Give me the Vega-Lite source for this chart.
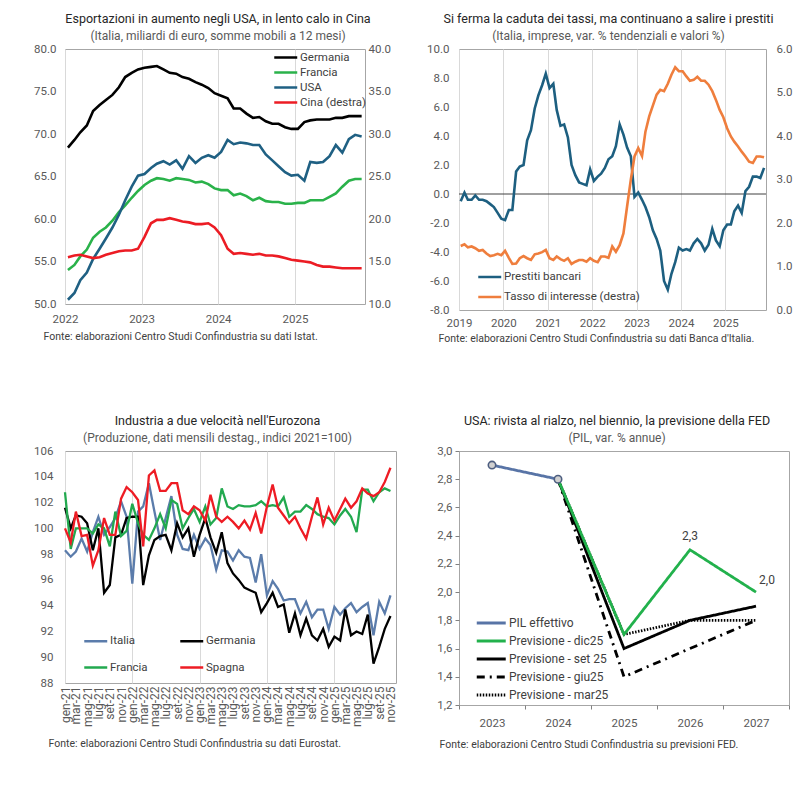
{
"$schema": "https://vega.github.io/schema/vega-lite/v6.json",
"background": "white",
"padding": {"left": 33, "top": 12, "right": 5, "bottom": 5},
"config": {
  "font": "Roboto",
  "view": {"stroke": "#a6a6a6", "strokeWidth": 1},
  "axis": {"labelFont": "Roboto", "labelFontSize": 11.5, "labelColor": "#595959", "domain": false, "ticks": false, "grid": false, "labelOverlap": false, "titleFont": "Roboto", "titleFontSize": 10.5, "titleFontWeight": "normal", "titleColor": "#404040"},
  "title": {"font": "Roboto", "fontSize": 12.5, "fontWeight": "normal", "color": "#262626", "subtitleFont": "Roboto", "subtitleFontSize": 12, "subtitleColor": "#595959", "subtitlePadding": 5.5, "offset": 1, "anchor": "middle"},
  "legend": {"labelFont": "Roboto", "labelFontSize": 11.5, "labelColor": "#404040", "symbolType": "M-1,0H3", "symbolSize": 132, "symbolStrokeWidth": 2.5, "labelOffset": 13}
},
"datasets": {
"exp": [
{"d":"2022-01-15","Germania":68.4,"Francia":54.0,"USA":50.5,"C":15.5},
{"d":"2022-02-15","Germania":69.3,"Francia":54.6,"USA":51.3,"C":15.7},
{"d":"2022-03-15","Germania":70.2,"Francia":55.6,"USA":52.8,"C":15.8},
{"d":"2022-04-15","Germania":71.0,"Francia":56.4,"USA":53.7,"C":15.6},
{"d":"2022-05-15","Germania":72.7,"Francia":57.8,"USA":55.3,"C":15.4},
{"d":"2022-06-15","Germania":73.4,"Francia":58.5,"USA":56.5,"C":15.5},
{"d":"2022-07-15","Germania":74.0,"Francia":59.0,"USA":57.7,"C":15.8},
{"d":"2022-08-15","Germania":74.6,"Francia":59.8,"USA":59.0,"C":16.0},
{"d":"2022-09-15","Germania":75.5,"Francia":60.8,"USA":60.5,"C":16.2},
{"d":"2022-10-15","Germania":76.7,"Francia":61.6,"USA":62.2,"C":16.3},
{"d":"2022-11-15","Germania":77.2,"Francia":62.5,"USA":63.8,"C":16.3},
{"d":"2022-12-15","Germania":77.6,"Francia":63.3,"USA":65.1,"C":16.5},
{"d":"2023-01-15","Germania":77.8,"Francia":64.0,"USA":65.3,"C":17.9},
{"d":"2023-02-15","Germania":77.9,"Francia":64.5,"USA":66.0,"C":19.5},
{"d":"2023-03-15","Germania":78.0,"Francia":64.8,"USA":66.5,"C":19.9},
{"d":"2023-04-15","Germania":77.6,"Francia":64.7,"USA":66.8,"C":19.9},
{"d":"2023-05-15","Germania":77.2,"Francia":64.5,"USA":66.4,"C":20.1},
{"d":"2023-06-15","Germania":77.1,"Francia":64.8,"USA":66.9,"C":19.9},
{"d":"2023-07-15","Germania":76.7,"Francia":64.7,"USA":65.9,"C":19.7},
{"d":"2023-08-15","Germania":76.5,"Francia":64.6,"USA":67.4,"C":19.6},
{"d":"2023-09-15","Germania":76.1,"Francia":64.3,"USA":66.6,"C":19.4},
{"d":"2023-10-15","Germania":75.8,"Francia":64.4,"USA":67.2,"C":19.4},
{"d":"2023-11-15","Germania":75.4,"Francia":64.1,"USA":67.5,"C":19.5},
{"d":"2023-12-15","Germania":74.8,"Francia":63.6,"USA":67.2,"C":19.0},
{"d":"2024-01-15","Germania":74.5,"Francia":63.4,"USA":67.9,"C":18.1},
{"d":"2024-02-15","Germania":74.2,"Francia":63.4,"USA":69.3,"C":16.5},
{"d":"2024-03-15","Germania":73.0,"Francia":62.8,"USA":68.8,"C":15.9},
{"d":"2024-04-15","Germania":73.0,"Francia":63.0,"USA":69.0,"C":16.0},
{"d":"2024-05-15","Germania":72.4,"Francia":62.7,"USA":68.9,"C":15.9},
{"d":"2024-06-15","Germania":71.9,"Francia":62.2,"USA":68.7,"C":15.8},
{"d":"2024-07-15","Germania":72.0,"Francia":62.5,"USA":68.7,"C":15.9},
{"d":"2024-08-15","Germania":71.5,"Francia":62.1,"USA":67.6,"C":15.7},
{"d":"2024-09-15","Germania":71.2,"Francia":62.0,"USA":66.9,"C":15.7},
{"d":"2024-10-15","Germania":71.2,"Francia":62.0,"USA":66.2,"C":15.6},
{"d":"2024-11-15","Germania":70.8,"Francia":61.8,"USA":65.5,"C":15.4},
{"d":"2024-12-15","Germania":70.6,"Francia":61.8,"USA":65.1,"C":15.2},
{"d":"2025-01-15","Germania":70.6,"Francia":61.9,"USA":65.2,"C":15.1},
{"d":"2025-02-15","Germania":71.4,"Francia":61.9,"USA":64.5,"C":15.0},
{"d":"2025-03-15","Germania":71.6,"Francia":62.2,"USA":66.7,"C":14.9},
{"d":"2025-04-15","Germania":71.7,"Francia":62.2,"USA":66.6,"C":14.6},
{"d":"2025-05-15","Germania":71.7,"Francia":62.2,"USA":66.7,"C":14.4},
{"d":"2025-06-15","Germania":71.7,"Francia":62.6,"USA":67.4,"C":14.4},
{"d":"2025-07-15","Germania":71.9,"Francia":63.0,"USA":68.7,"C":14.3},
{"d":"2025-08-15","Germania":71.9,"Francia":63.8,"USA":67.8,"C":14.2},
{"d":"2025-09-15","Germania":72.1,"Francia":64.5,"USA":69.4,"C":14.2},
{"d":"2025-10-15","Germania":72.1,"Francia":64.7,"USA":69.9,"C":14.2},
{"d":"2025-11-15","Germania":72.1,"Francia":64.7,"USA":69.7,"C":14.2}
],
"cred": [
{"d":"2019-01-15","p":-0.5,"t":1.47},{"d":"2019-02-15","p":0.1,"t":1.51},{"d":"2019-03-15","p":-0.4,"t":1.44},{"d":"2019-04-15","p":-0.4,"t":1.46},{"d":"2019-05-15","p":-0.1,"t":1.42},{"d":"2019-06-15","p":-0.4,"t":1.36},{"d":"2019-07-15","p":-0.4,"t":1.38},{"d":"2019-08-15","p":-0.5,"t":1.30},{"d":"2019-09-15","p":-0.7,"t":1.24},{"d":"2019-10-15","p":-0.9,"t":1.26},{"d":"2019-11-15","p":-1.3,"t":1.29},{"d":"2019-12-15","p":-1.7,"t":1.26},
{"d":"2020-01-15","p":-1.8,"t":1.36},{"d":"2020-02-15","p":-1.1,"t":1.20},{"d":"2020-03-15","p":-1.1,"t":1.06},{"d":"2020-04-15","p":1.55,"t":1.07},{"d":"2020-05-15","p":1.9,"t":1.19},{"d":"2020-06-15","p":2.0,"t":1.24},{"d":"2020-07-15","p":3.7,"t":1.19},{"d":"2020-08-15","p":4.4,"t":1.15},{"d":"2020-09-15","p":5.9,"t":1.28},{"d":"2020-10-15","p":6.8,"t":1.30},{"d":"2020-11-15","p":7.5,"t":1.33},{"d":"2020-12-15","p":8.3,"t":1.38},
{"d":"2021-01-15","p":7.3,"t":1.19},{"d":"2021-02-15","p":7.6,"t":1.15},{"d":"2021-03-15","p":5.8,"t":1.23},{"d":"2021-04-15","p":4.7,"t":1.17},{"d":"2021-05-15","p":4.8,"t":1.13},{"d":"2021-06-15","p":3.9,"t":1.19},{"d":"2021-07-15","p":2.0,"t":1.06},{"d":"2021-08-15","p":1.3,"t":1.11},{"d":"2021-09-15","p":0.8,"t":1.15},{"d":"2021-10-15","p":0.7,"t":1.15},{"d":"2021-11-15","p":0.6,"t":1.11},{"d":"2021-12-15","p":1.7,"t":1.19},
{"d":"2022-01-15","p":0.9,"t":1.13},{"d":"2022-02-15","p":1.2,"t":1.10},{"d":"2022-03-15","p":1.4,"t":1.23},{"d":"2022-04-15","p":1.8,"t":1.23},{"d":"2022-05-15","p":2.4,"t":1.20},{"d":"2022-06-15","p":2.6,"t":1.46},{"d":"2022-07-15","p":3.3,"t":1.34},{"d":"2022-08-15","p":4.8,"t":1.49},{"d":"2022-09-15","p":4.1,"t":1.76},{"d":"2022-10-15","p":3.2,"t":2.38},{"d":"2022-11-15","p":2.6,"t":3.0},{"d":"2022-12-15","p":-0.2,"t":3.53},
{"d":"2023-01-15","p":0.1,"t":3.72},{"d":"2023-02-15","p":-0.4,"t":3.54},{"d":"2023-03-15","p":-0.9,"t":4.1},{"d":"2023-04-15","p":-1.6,"t":4.45},{"d":"2023-05-15","p":-2.5,"t":4.7},{"d":"2023-06-15","p":-3.1,"t":4.95},{"d":"2023-07-15","p":-3.9,"t":5.06},{"d":"2023-08-15","p":-6.0,"t":5.03},{"d":"2023-09-15","p":-6.6,"t":5.2},{"d":"2023-10-15","p":-5.5,"t":5.41},{"d":"2023-11-15","p":-4.7,"t":5.58},{"d":"2023-12-15","p":-3.7,"t":5.49},
{"d":"2024-01-15","p":-3.9,"t":5.49},{"d":"2024-02-15","p":-3.8,"t":5.37},{"d":"2024-03-15","p":-3.9,"t":5.27},{"d":"2024-04-15","p":-3.4,"t":5.29},{"d":"2024-05-15","p":-3.1,"t":5.36},{"d":"2024-06-15","p":-3.4,"t":5.27},{"d":"2024-07-15","p":-3.9,"t":5.27},{"d":"2024-08-15","p":-3.5,"t":5.18},{"d":"2024-09-15","p":-2.4,"t":5.03},{"d":"2024-10-15","p":-3.2,"t":4.83},{"d":"2024-11-15","p":-3.6,"t":4.60},{"d":"2024-12-15","p":-2.5,"t":4.43},
{"d":"2025-01-15","p":-2.1,"t":4.18},{"d":"2025-02-15","p":-2.1,"t":3.99},{"d":"2025-03-15","p":-1.2,"t":3.87},{"d":"2025-04-15","p":-0.8,"t":3.76},{"d":"2025-05-15","p":-1.3,"t":3.64},{"d":"2025-06-15","p":0.2,"t":3.53},{"d":"2025-07-15","p":0.5,"t":3.41},{"d":"2025-08-15","p":1.2,"t":3.38},{"d":"2025-09-15","p":1.2,"t":3.53},{"d":"2025-10-15","p":1.1,"t":3.53},{"d":"2025-11-15","p":1.8,"t":3.51}
],
"ind": [
{"d":"2021-01-01","Italia":98.3,"Germania":101.6,"Francia":102.8,"Spagna":100.0},
{"d":"2021-02-01","Italia":97.8,"Germania":100.0,"Francia":98.4,"Spagna":98.9},
{"d":"2021-03-01","Italia":98.2,"Germania":101.0,"Francia":100.0,"Spagna":101.3},
{"d":"2021-04-01","Italia":99.2,"Germania":100.9,"Francia":100.0,"Spagna":99.4},
{"d":"2021-05-01","Italia":98.2,"Germania":100.4,"Francia":100.0,"Spagna":99.5},
{"d":"2021-06-01","Italia":99.7,"Germania":98.3,"Francia":99.6,"Spagna":97.1},
{"d":"2021-07-01","Italia":100.9,"Germania":100.0,"Francia":100.3,"Spagna":98.3},
{"d":"2021-08-01","Italia":99.5,"Germania":95.0,"Francia":100.0,"Spagna":100.8},
{"d":"2021-09-01","Italia":100.1,"Germania":95.6,"Francia":98.6,"Spagna":99.5},
{"d":"2021-10-01","Italia":100.8,"Germania":99.3,"Francia":101.3,"Spagna":99.5},
{"d":"2021-11-01","Italia":102.1,"Germania":99.5,"Francia":99.4,"Spagna":102.3},
{"d":"2021-12-01","Italia":100.9,"Germania":100.8,"Francia":99.8,"Spagna":103.2},
{"d":"2022-01-01","Italia":95.7,"Germania":100.9,"Francia":101.9,"Spagna":102.8},
{"d":"2022-02-01","Italia":101.3,"Germania":100.9,"Francia":100.4,"Spagna":102.2},
{"d":"2022-03-01","Italia":101.7,"Germania":95.6,"Francia":99.5,"Spagna":98.6},
{"d":"2022-04-01","Italia":103.5,"Germania":97.9,"Francia":99.1,"Spagna":104.1},
{"d":"2022-05-01","Italia":101.3,"Germania":99.1,"Francia":100.0,"Spagna":104.5},
{"d":"2022-06-01","Italia":99.1,"Germania":99.4,"Francia":101.1,"Spagna":102.9},
{"d":"2022-07-01","Italia":100.8,"Germania":99.5,"Francia":100.0,"Spagna":102.9},
{"d":"2022-08-01","Italia":102.5,"Germania":98.3,"Francia":102.2,"Spagna":103.5},
{"d":"2022-09-01","Italia":99.5,"Germania":100.4,"Francia":101.9,"Spagna":103.5},
{"d":"2022-10-01","Italia":98.4,"Germania":99.3,"Francia":100.0,"Spagna":101.4},
{"d":"2022-11-01","Italia":98.3,"Germania":100.0,"Francia":100.8,"Spagna":101.1},
{"d":"2022-12-01","Italia":99.5,"Germania":97.8,"Francia":101.5,"Spagna":101.7},
{"d":"2023-01-01","Italia":98.4,"Germania":99.5,"Francia":100.5,"Spagna":101.4},
{"d":"2023-02-01","Italia":99.2,"Germania":100.8,"Francia":101.7,"Spagna":100.6},
{"d":"2023-03-01","Italia":98.7,"Germania":99.3,"Francia":100.3,"Spagna":102.6},
{"d":"2023-04-01","Italia":96.8,"Germania":98.1,"Francia":100.8,"Spagna":100.9},
{"d":"2023-05-01","Italia":98.3,"Germania":99.7,"Francia":103.1,"Spagna":100.5},
{"d":"2023-06-01","Italia":98.2,"Germania":97.3,"Francia":101.7,"Spagna":100.9},
{"d":"2023-07-01","Italia":97.5,"Germania":96.5,"Francia":101.5,"Spagna":100.5},
{"d":"2023-08-01","Italia":98.3,"Germania":96.0,"Francia":101.8,"Spagna":100.0},
{"d":"2023-09-01","Italia":97.8,"Germania":95.4,"Francia":101.7,"Spagna":100.6},
{"d":"2023-10-01","Italia":97.7,"Germania":95.2,"Francia":101.7,"Spagna":99.9},
{"d":"2023-11-01","Italia":95.8,"Germania":95.0,"Francia":101.8,"Spagna":101.2},
{"d":"2023-12-01","Italia":98.0,"Germania":93.5,"Francia":102.1,"Spagna":99.6},
{"d":"2024-01-01","Italia":94.8,"Germania":94.2,"Francia":101.7,"Spagna":101.7},
{"d":"2024-02-01","Italia":95.9,"Germania":95.0,"Francia":101.8,"Spagna":103.4},
{"d":"2024-03-01","Italia":95.3,"Germania":93.9,"Francia":101.7,"Spagna":101.6},
{"d":"2024-04-01","Italia":94.4,"Germania":94.1,"Francia":102.4,"Spagna":101.0},
{"d":"2024-05-01","Italia":94.5,"Germania":91.9,"Francia":100.9,"Spagna":100.4},
{"d":"2024-06-01","Italia":94.5,"Germania":93.4,"Francia":101.3,"Spagna":100.9},
{"d":"2024-07-01","Italia":93.4,"Germania":91.7,"Francia":101.3,"Spagna":100.0},
{"d":"2024-08-01","Italia":94.3,"Germania":93.0,"Francia":101.8,"Spagna":99.2},
{"d":"2024-09-01","Italia":93.1,"Germania":91.7,"Francia":101.5,"Spagna":100.9},
{"d":"2024-10-01","Italia":93.7,"Germania":91.3,"Francia":101.1,"Spagna":102.4},
{"d":"2024-11-01","Italia":93.7,"Germania":92.2,"Francia":100.9,"Spagna":100.3},
{"d":"2024-12-01","Italia":92.2,"Germania":90.8,"Francia":100.8,"Spagna":101.6},
{"d":"2025-01-01","Italia":93.9,"Germania":91.6,"Francia":100.3,"Spagna":100.6},
{"d":"2025-02-01","Italia":93.3,"Germania":91.3,"Francia":101.0,"Spagna":101.5},
{"d":"2025-03-01","Italia":93.8,"Germania":93.7,"Francia":101.5,"Spagna":102.3},
{"d":"2025-04-01","Italia":94.2,"Germania":91.7,"Francia":100.9,"Spagna":101.6},
{"d":"2025-05-01","Italia":93.5,"Germania":92.0,"Francia":99.7,"Spagna":102.1},
{"d":"2025-06-01","Italia":93.9,"Germania":91.8,"Francia":103.0,"Spagna":103.1},
{"d":"2025-07-01","Italia":94.2,"Germania":93.3,"Francia":103.0,"Spagna":102.7},
{"d":"2025-08-01","Italia":91.7,"Germania":89.5,"Francia":102.1,"Spagna":102.5},
{"d":"2025-09-01","Italia":94.3,"Germania":90.8,"Francia":102.8,"Spagna":102.8},
{"d":"2025-10-01","Italia":93.4,"Germania":92.2,"Francia":103.1,"Spagna":103.6},
{"d":"2025-11-01","Italia":94.8,"Germania":93.2,"Francia":102.9,"Spagna":104.7}
],
"fed": [
{"anno":"2023","s":"PIL effettivo","v":2.9},{"anno":"2024","s":"PIL effettivo","v":2.8},
{"anno":"2024","s":"Previsione - mar25","v":2.8},{"anno":"2025","s":"Previsione - mar25","v":1.7},{"anno":"2026","s":"Previsione - mar25","v":1.8},{"anno":"2027","s":"Previsione - mar25","v":1.8},
{"anno":"2024","s":"Previsione - giu25","v":2.8},{"anno":"2025","s":"Previsione - giu25","v":1.4},{"anno":"2026","s":"Previsione - giu25","v":1.6},{"anno":"2027","s":"Previsione - giu25","v":1.8},
{"anno":"2024","s":"Previsione - set 25","v":2.8},{"anno":"2025","s":"Previsione - set 25","v":1.6},{"anno":"2026","s":"Previsione - set 25","v":1.8},{"anno":"2027","s":"Previsione - set 25","v":1.9},
{"anno":"2024","s":"Previsione - dic25","v":2.8},{"anno":"2025","s":"Previsione - dic25","v":1.7},{"anno":"2026","s":"Previsione - dic25","v":2.3},{"anno":"2027","s":"Previsione - dic25","v":2.0}
]
},
"vconcat": [
{
"hconcat": [
{
 "width": 300, "height": 255,
 "title": {"text": "Esportazioni in aumento negli USA, in lento calo in Cina", "subtitle": "(Italia, miliardi di euro, somme mobili a 12 mesi)", "dx": 3},
 "data": {"name": "exp"},
 "layer": [
  {"transform": [{"fold": ["Germania", "Francia", "USA"], "as": ["s", "v"]}],
   "mark": {"type": "line", "strokeWidth": 2.6},
   "encoding": {
    "x": {"field": "d", "type": "temporal", "scale": {"type": "utc", "nice": false, "domain": [{"year": 2022, "month": 1, "date": 1, "utc": true}, {"year": 2025, "month": 12, "date": 1, "utc": true}]},
          "axis": {"tickCount": {"interval": "year", "step": 1}, "labelExpr": "utcFormat(datum.value, '%Y')", "grid": true, "gridColor": "#d9d9d9", "labelFlush": false, "labelPadding": 9, "title": "Fonte: elaborazioni Centro Studi Confindustria su dati Istat.", "titleAnchor": "start", "titleAlign": "left", "titleX": -22, "titlePadding": 7}},
    "y": {"field": "v", "type": "quantitative", "scale": {"domain": [50, 80], "nice": false, "zero": false}, "axis": {"orient": "left", "values": [50, 55, 60, 65, 70, 75, 80], "format": ".1f", "labelPadding": 9, "title": null}},
    "color": {"field": "s", "type": "nominal", "scale": {"domain": ["Germania", "Francia", "USA", "Cina (destra)"], "range": ["#000000", "#2ab24a", "#1f6083", "#ec1c24"]}, "legend": {"title": null, "orient": "none", "legendX": 208, "legendY": 1.5, "rowPadding": 2}}
   }},
  {"mark": {"type": "line", "strokeWidth": 2.6},
   "encoding": {
    "x": {"field": "d", "type": "temporal"},
    "y": {"field": "C", "type": "quantitative", "scale": {"domain": [10, 40], "nice": false, "zero": false}, "axis": {"orient": "right", "values": [10, 15, 20, 25, 30, 35, 40], "format": ".1f", "labelPadding": 3, "title": null}},
    "color": {"datum": "Cina (destra)", "type": "nominal"}
   }}
 ],
 "resolve": {"scale": {"y": "independent"}}
},
{
 "width": 307, "height": 261,
 "title": {"text": "Si ferma la caduta dei tassi, ma continuano a salire i prestiti", "subtitle": "(Italia, imprese, var. % tendenziali e valori %)", "dx": -4},
 "data": {"name": "cred"},
 "layer": [
  {"data": {"values": [{}]}, "mark": {"type": "rule", "color": "#404040", "strokeWidth": 1},
   "encoding": {"y": {"datum": 0, "type": "quantitative", "scale": {"domain": [-8, 10], "nice": false, "zero": false}, "axis": null}}},
  {"mark": {"type": "line", "strokeWidth": 2.6},
   "encoding": {
    "x": {"field": "d", "type": "temporal", "scale": {"type": "utc", "nice": false, "domain": [{"year": 2019, "month": 1, "date": 1, "utc": true}, {"year": 2025, "month": 12, "date": 1, "utc": true}]},
          "axis": {"tickCount": {"interval": "year", "step": 1}, "labelExpr": "utcFormat(datum.value, '%Y')", "grid": true, "gridColor": "#d9d9d9", "labelFlush": false, "labelPadding": 7, "title": "Fonte: elaborazioni Centro Studi Confindustria su dati Banca d'Italia.", "titleAnchor": "start", "titleAlign": "left", "titleX": -21, "titlePadding": 5}},
    "y": {"field": "p", "type": "quantitative", "scale": {"domain": [-8, 10], "nice": false, "zero": false}, "axis": {"orient": "left", "values": [-8, -6, -4, -2, 0, 2, 4, 6, 8, 10], "labelExpr": "replace(format(datum.value, '.1f'), '\u2212', '-')", "labelPadding": 10, "title": null}},
    "color": {"datum": "Prestiti bancari", "type": "nominal", "scale": {"domain": ["Prestiti bancari", "Tasso di interesse (destra)"], "range": ["#1d5f80", "#ef7e3d"]}, "legend": {"title": null, "orient": "none", "legendX": 18, "legendY": 221, "rowPadding": 7}}
   }},
  {"mark": {"type": "line", "strokeWidth": 2.6},
   "encoding": {
    "x": {"field": "d", "type": "temporal"},
    "y": {"field": "t", "type": "quantitative", "scale": {"domain": [0, 6], "nice": false, "zero": false}, "axis": {"orient": "right", "values": [0, 1, 2, 3, 4, 5, 6], "format": ".1f", "labelPadding": 10, "title": null}},
    "color": {"datum": "Tasso di interesse (destra)", "type": "nominal"}
   }}
 ],
 "resolve": {"scale": {"y": "independent"}}
}
],
"spacing": 94,
"bounds": "flush",
"resolve": {"scale": {"color": "independent", "strokeDash": "independent", "strokeWidth": "independent"}}
},
{
"hconcat": [
{
 "width": 331, "height": 232,
 "title": {"text": "Industria a due velocità nell'Eurozona", "subtitle": "(Produzione, dati mensili destag., indici 2021=100)", "dx": -13},
 "data": {"name": "ind"},
 "transform": [{"fold": ["Italia", "Germania", "Francia", "Spagna"], "as": ["s", "v"]}],
 "mark": {"type": "line", "strokeWidth": 2.3},
 "encoding": {
  "x": {"field": "d", "type": "temporal", "scale": {"type": "utc", "nice": false, "domain": [{"year": 2021, "month": 1, "date": 1, "utc": true}, {"year": 2025, "month": 12, "date": 1, "utc": true}]},
        "axis": {"tickCount": {"interval": "month", "step": 2}, "labelExpr": "['gen','feb','mar','apr','mag','giu','lug','ago','set','ott','nov','dic'][utcmonth(datum.value)] + '-' + utcFormat(datum.value, '%y')", "labelAngle": -90, "labelAlign": "right", "labelBaseline": "middle", "labelOverlap": false, "labelFlush": false, "labelPadding": 3, "labelFontSize": 12, "grid": true, "gridColor": "#d9d9d9", "gridOpacity": {"condition": {"test": "utcmonth(datum.value) === 0", "value": 1}, "value": 0}, "title": "Fonte: elaborazioni Centro Studi Confindustria su dati Eurostat.", "titleAnchor": "start", "titleAlign": "left", "titleX": -17, "titlePadding": 12}},
  "y": {"field": "v", "type": "quantitative", "scale": {"domain": [88, 106], "nice": false, "zero": false}, "axis": {"values": [88, 90, 92, 94, 96, 98, 100, 102, 104, 106], "labelPadding": 12, "title": null}},
  "color": {"field": "s", "type": "nominal", "scale": {"domain": ["Italia", "Francia", "Germania", "Spagna"], "range": ["#5b7cab", "#22a94f", "#000000", "#ee1c24"]}, "legend": {"title": null, "orient": "none", "legendX": 18, "legendY": 183, "columns": 2, "columnPadding": 27, "rowPadding": 13.5}}
 }
},
{
 "width": 330, "height": 254,
 "title": {"text": "USA: rivista al rialzo, nel biennio, la previsione della FED", "subtitle": "(PIL, var. % annue)", "dx": -7},
 "data": {"name": "fed"},
 "encoding": {
  "x": {"field": "anno", "type": "ordinal", "bandPosition": 0.5, "scale": {"type": "band", "paddingInner": 0, "paddingOuter": 0},
        "axis": {"labelAngle": 0, "ticks": true, "tickBand": "extent", "tickSize": 4, "tickColor": "#808080", "labelPadding": 8, "title": "Fonte: elaborazioni Centro Studi Confindustria su previsioni FED.", "titleAnchor": "start", "titleAlign": "left", "titleX": -20, "titlePadding": 11}},
  "y": {"field": "v", "type": "quantitative", "scale": {"domain": [1.2, 3.0], "nice": false, "zero": false}, "axis": {"values": [1.2, 1.4, 1.6, 1.8, 2.0, 2.2, 2.4, 2.6, 2.8, 3.0], "labelExpr": "replace(format(datum.value, '.1f'), '.', ',')", "labelOverlap": false, "ticks": true, "tickSize": 4, "tickColor": "#808080", "labelPadding": 3, "title": null}}
 },
 "layer": [
  {"mark": {"type": "line"},
   "encoding": {
    "color": {"field": "s", "type": "nominal", "scale": {"domain": ["PIL effettivo", "Previsione - dic25", "Previsione - set 25", "Previsione - giu25", "Previsione - mar25"], "range": ["#5874a6", "#22b14c", "#000000", "#000000", "#000000"]},
              "legend": {"title": null, "orient": "none", "legendX": 16, "legendY": 163, "symbolSize": 210, "labelOffset": 16, "rowPadding": 3, "labelFontSize": 12}},
    "strokeDash": {"field": "s", "type": "nominal", "scale": {"domain": ["PIL effettivo", "Previsione - dic25", "Previsione - set 25", "Previsione - giu25", "Previsione - mar25"], "range": [[1, 0], [1, 0], [1, 0], [8, 5, 2, 5], [1.5, 1.5]]},
              "legend": {"title": null, "orient": "none", "legendX": 16, "legendY": 163, "symbolSize": 210, "labelOffset": 16, "rowPadding": 3, "labelFontSize": 12}},
    "strokeWidth": {"field": "s", "type": "nominal", "scale": {"domain": ["PIL effettivo", "Previsione - dic25", "Previsione - set 25", "Previsione - giu25", "Previsione - mar25"], "range": [2.8, 2.8, 2, 2.2, 1]},
              "legend": {"title": null, "orient": "none", "legendX": 16, "legendY": 163, "symbolSize": 210, "labelOffset": 16, "rowPadding": 3, "labelFontSize": 12}}
   }},
  {"transform": [{"filter": "datum.s == 'PIL effettivo'"}],
   "mark": {"type": "point", "shape": "circle", "filled": true, "size": 55, "fill": "#d0d0d0", "stroke": "#4d5e80", "strokeWidth": 1.6, "opacity": 1}},
  {"data": {"values": [{"anno": "2026", "v": 2.3, "lbl": "2,3"}]},
   "mark": {"type": "text", "dy": -14, "fontSize": 12, "color": "#404040", "font": "Roboto"},
   "encoding": {"text": {"field": "lbl"}}},
  {"data": {"values": [{"anno": "2027", "v": 2.0, "lbl": "2,0"}]},
   "mark": {"type": "text", "dx": 11, "dy": -12, "fontSize": 12, "color": "#404040", "font": "Roboto"},
   "encoding": {"text": {"field": "lbl"}}}
 ]
}
],
"spacing": 63,
"bounds": "flush",
"resolve": {"scale": {"color": "independent", "strokeDash": "independent", "strokeWidth": "independent"}}
}
],
"spacing": 69,
"resolve": {"scale": {"color": "independent", "strokeDash": "independent", "strokeWidth": "independent"}}
}
